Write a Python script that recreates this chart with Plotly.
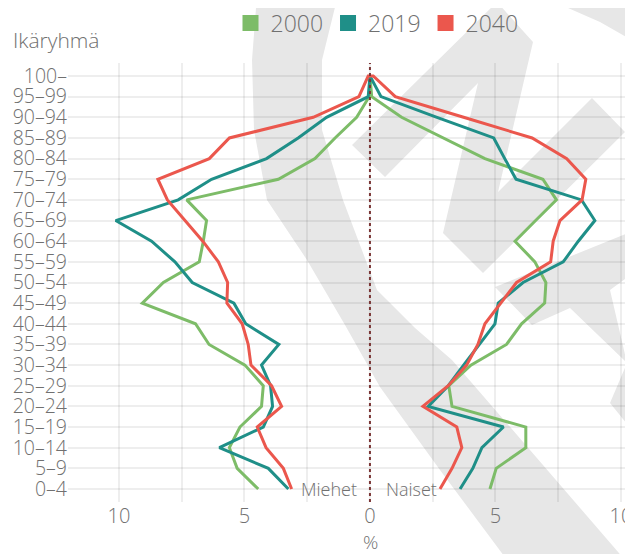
import plotly.graph_objects as go

# ---------------- data ----------------
age_groups = ["0–4", "5–9", "10–14", "15–19", "20–24", "25–29", "30–34", "35–39",
              "40–44", "45–49", "50–54", "55–59", "60–64", "65–69", "70–74", "75–79",
              "80–84", "85–89", "90–94", "95–99", "100–"]

years = ["2000", "2019", "2040"]

men_2000 = [4.45, 5.29, 5.60, 5.18, 4.32, 4.25, 4.98, 6.41, 6.95, 9.07, 8.23, 6.80,
            6.64, 6.51, 7.30, 3.65, 2.19, 1.39, 0.53, 0.03, 0.0]
men_2019 = [3.25, 4.05, 6.00, 4.25, 3.88, 3.96, 4.32, 3.63, 4.95, 5.42, 7.08, 7.77,
            8.70, 10.13, 7.64, 6.31, 4.12, 2.86, 1.73, 0.07, 0.0]
men_2040 = [3.12, 3.45, 4.14, 4.49, 3.52, 3.92, 4.74, 4.85, 5.09, 5.70, 5.67, 6.04,
            6.66, 7.37, 8.07, 8.45, 6.40, 5.60, 2.26, 0.44, 0.07]

women_2000 = [4.78, 5.03, 6.21, 6.21, 3.27, 3.14, 4.02, 5.44, 6.04, 6.96, 7.01, 6.57,
              5.78, 6.60, 7.43, 6.89, 4.58, 2.92, 1.26, 0.07, 0.0]
women_2019 = [3.59, 4.10, 4.46, 5.32, 2.32, 3.12, 3.73, 4.34, 4.98, 5.11, 6.10, 7.70,
              8.30, 8.96, 8.43, 5.82, 5.37, 4.93, 2.67, 0.44, 0.0]
women_2040 = [2.79, 3.27, 3.66, 3.46, 2.11, 3.12, 3.85, 4.30, 4.58, 5.22, 5.84, 7.20,
              7.30, 7.57, 8.45, 8.60, 7.84, 6.46, 3.73, 1.01, 0.13]

men = {"2000": men_2000, "2019": men_2019, "2040": men_2040}
women = {"2000": women_2000, "2019": women_2019, "2040": women_2040}

colors = {"2000": "#7dbc68", "2019": "#1f8f88", "2040": "#eb574d"}

x_tick_vals = [-10, -7.5, -5, -2.5, 0, 2.5, 5, 7.5, 10]
x_tick_text = ["10", "", "5", "", "0", "", "5", "", "10"]

# ---------------- layout geometry (pixels) ----------------
# the page body has an 8px default margin; the figure is sized to fill the window
OFF = 8
W, H = 633 - OFF, 554 - OFF
ML, MR, MT, MB = 68 - OFF, 0, 63 - OFF, 52
PW, PH = W - ML - MR, H - MT - MB

FONT = "Open Sans"
TXT = "#707070"


def px2paper(x, y):
    """window pixel -> paper coords"""
    return ((x - OFF) - ML) / PW, (H - MB - (y - OFF)) / PH


def poly(points):
    parts = []
    for i, (x, y) in enumerate(points):
        px, py = px2paper(x, y)
        parts.append(("M" if i == 0 else "L") + f"{px:.4f},{py:.4f}")
    return " ".join(parts) + " Z"


def fnt(size):
    return dict(size=size, color=TXT, family=FONT, weight=300)


fig = go.Figure()

for yr in years:
    xs = [-v for v in men[yr]] + list(reversed(women[yr]))
    ys = age_groups + list(reversed(age_groups))
    fig.add_trace(go.Scatter(
        x=xs, y=ys, mode="lines", name=yr,
        line=dict(color=colors[yr], width=3),
        showlegend=False, hoverinfo="skip"))

for yr in years:
    fig.add_trace(go.Scatter(
        x=[None], y=[None], mode="markers", name=yr,
        marker=dict(symbol="square", size=19, color=colors[yr]),
        showlegend=True))

# ---------------- watermark (background decoration) ----------------
wm = "#e7e7e7"
arc_outer = [(257, -5), (252, 60), (254, 130), (267, 200), (307, 260), (345, 325),
             (380, 387), (440, 470), (507, 560)]
arc_inner = [(625, 560), (530, 450), (452, 360), (415, 328), (377, 290), (343, 200),
             (322, 130), (322, 60), (338, -5)]
shapes_px = [
    arc_outer + arc_inner,
    [(540, -5), (640, -5), (640, 45), (600, 22), (568, 8)],
    [(352, 145), (497, 2), (533, 42), (498, 192), (592, 98), (625, 132), (483, 273),
     (443, 233), (478, 83), (385, 177)],
    [(495, 287), (640, 228), (640, 268), (610, 290), (627, 363), (570, 308), (532, 325)],
    [(627, 363), (640, 345), (640, 440), (610, 403)],
]
shapes = []
for pts in shapes_px:
    shapes.append(dict(type="path", path=poly(pts), xref="paper", yref="paper",
                       fillcolor=wm, line=dict(width=0), layer="below"))

# zero line
shapes.append(dict(type="line", xref="x", yref="paper", x0=0, x1=0, y0=0, y1=1,
                   line=dict(color="#7a3535", width=2, dash="dot"), layer="above"))

ttl_x, ttl_y = px2paper(11, 40)
pct_x, pct_y = px2paper(370, 542)

fig.update_layout(
    width=W, height=H,
    margin=dict(l=ML, r=MR, t=MT, b=MB, pad=0, autoexpand=False),
    paper_bgcolor="white", plot_bgcolor="rgba(0,0,0,0)",
    font=fnt(19),
    shapes=shapes,
    showlegend=True,
    legend=dict(orientation="h", xref="container", yref="container",
                x=(377 - OFF) / W, y=1 - (23 - OFF) / H,
                xanchor="center", yanchor="middle",
                font=fnt(23), bgcolor="rgba(0,0,0,0)", itemwidth=30,
                tracegroupgap=0),
    annotations=[
        dict(text="Ikäryhmä", xref="paper", yref="paper", x=ttl_x, y=ttl_y,
             xanchor="left", yanchor="middle", showarrow=False, font=fnt(21)),
        dict(text="%", xref="paper", yref="paper", x=pct_x, y=pct_y,
             xanchor="center", yanchor="middle", showarrow=False, font=fnt(19)),
        dict(text="Miehet", xref="x", yref="y", x=-0.45, y="0–4",
             xanchor="right", yanchor="middle", showarrow=False, font=fnt(18)),
        dict(text="Naiset", xref="x", yref="y", x=0.55, y="0–4",
             xanchor="left", yanchor="middle", showarrow=False, font=fnt(18)),
    ],
    xaxis=dict(range=[-12.03, 10.48], tickmode="array", tickvals=x_tick_vals,
               ticktext=x_tick_text, automargin=False,
               showgrid=True, gridcolor="rgba(0,0,0,0.065)", gridwidth=2,
               zeroline=False, showline=False, ticks="",
               tickfont=fnt(20), fixedrange=True),
    yaxis=dict(type="category", categoryorder="array", categoryarray=age_groups,
               tickmode="array", tickvals=age_groups, ticktext=age_groups,
               automargin=False,
               range=[-0.63, 20.63], showgrid=True,
               gridcolor="rgba(0,0,0,0.065)", gridwidth=2,
               zeroline=False, showline=False, ticks="",
               tickfont=fnt(19.5), fixedrange=True),
)

fig.write_html("out.html")
